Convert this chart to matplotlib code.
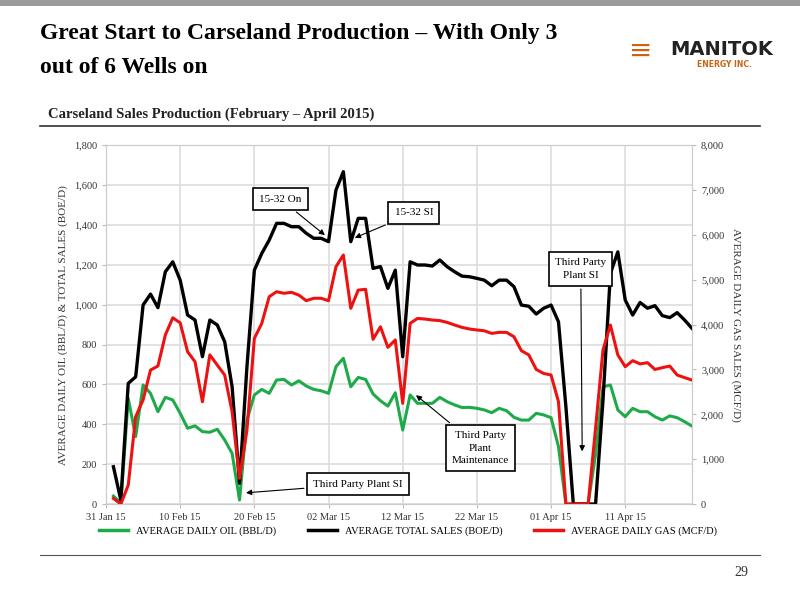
import matplotlib
matplotlib.use("Agg")
import matplotlib.pyplot as plt
from matplotlib.lines import Line2D

days = list(range(1, 80))
tick_days = [0, 10, 20, 30, 40, 50, 60, 70]
tick_labels = ["31 Jan 15", "10 Feb 15", "20 Feb 15", "02 Mar 15", "12 Mar 15", "22 Mar 15", "01 Apr 15", "11 Apr 15"]

total_boe = [187, 20, 605, 638, 998, 1053, 985, 1165, 1215, 1123, 948, 923, 739, 923, 898, 814, 588, 104,
             688, 1173, 1257, 1324, 1408, 1408, 1391, 1391, 1358, 1333, 1333, 1316, 1575, 1667, 1316, 1433,
             1433, 1182, 1191, 1082, 1173, 739, 1215, 1199, 1199, 1194, 1224, 1190, 1165, 1143, 1140, 1132,
             1123, 1095, 1123, 1123, 1090, 998, 992, 953, 982, 998, 914, 488, 0, 0, 0, 0, 521, 1157, 1265,
             1023, 948, 1011, 982, 995, 945, 935, 960, 923, 881]
oil_bbl = [40, 5, 530, 338, 597, 555, 463, 535, 522, 455, 380, 392, 363, 360, 375, 321, 254, 20, 421, 547,
           575, 555, 622, 625, 597, 618, 592, 575, 568, 555, 689, 731, 588, 635, 625, 552, 518, 491, 558,
           371, 547, 505, 505, 505, 535, 513, 497, 484, 485, 480, 472, 458, 480, 468, 435, 421, 421, 455,
           447, 433, 288, 0, 0, 0, 0, 250, 588, 597, 472, 438, 480, 463, 463, 438, 421, 442, 433, 413, 391]
gas_mcf = [124, 0, 422, 1947, 2320, 2987, 3076, 3769, 4151, 4040, 3396, 3173, 2280, 3324, 3098, 2876, 2058,
           573, 1649, 3693, 4027, 4622, 4733, 4698, 4720, 4658, 4533, 4587, 4587, 4533, 5289, 5551, 4364,
           4769, 4787, 3671, 3951, 3493, 3658, 2244, 4027, 4138, 4124, 4102, 4089, 4049, 3991, 3938, 3902,
           3880, 3862, 3804, 3827, 3827, 3729, 3418, 3324, 3000, 2911, 2876, 2280, 0, 0, 0, 0, 1689, 3436,
           3991, 3324, 3062, 3196, 3124, 3151, 3000, 3040, 3076, 2876, 2818, 2764]

serif = "Liberation Serif"
fig = plt.figure(figsize=(8, 6), dpi=100)
fig.patch.set_facecolor("white")

fig.add_artist(Line2D([0, 1], [0.997, 0.997], color="#9a9a9a", lw=5))
fig.text(0.05, 0.945, "Great Start to Carseland Production \u2013 With Only 3", fontsize=17,
         fontweight="bold", family=serif, va="center")
fig.text(0.05, 0.888, "out of 6 Wells on", fontsize=17, fontweight="bold", family=serif, va="center")
fig.text(0.838, 0.918, "MANITOK", fontsize=14, fontweight="bold", family="DejaVu Sans", color="#222222", va="center")
fig.text(0.905, 0.893, "ENERGY INC.", fontsize=5.5, fontweight="bold", color="#c86414", ha="center", va="center")
fig.text(0.801, 0.915, "\u2261", fontsize=20, color="#c86414", ha="center", va="center")
fig.text(0.06, 0.81, "Carseland Sales Production (February \u2013 April 2015)", fontsize=10.5,
         fontweight="bold", family=serif, va="center", color="#222222")
fig.add_artist(Line2D([0.05, 0.95], [0.79, 0.79], color="#333333", lw=1.2))
fig.add_artist(Line2D([0.05, 0.95], [0.075, 0.075], color="#555555", lw=0.8))
fig.text(0.935, 0.045, "29", fontsize=10, family=serif, ha="right", va="center", color="#333333")

ax = fig.add_axes([0.1325, 0.16, 0.7325, 0.598])
ax2 = ax.twinx()
ax.plot(days, oil_bbl, color="#1faa4a", lw=2.2, zorder=3)
ax.plot(days, total_boe, color="black", lw=2.4, zorder=4)
ax2.plot(days, gas_mcf, color="#ee1111", lw=2.2, zorder=3)

ax.set_xlim(0, 79)
ax.set_ylim(0, 1800)
ax2.set_ylim(0, 8000)
ax.set_yticks(range(0, 1801, 200))
ax.set_yticklabels([f"{v:,}" for v in range(0, 1801, 200)])
ax2.set_yticks(range(0, 8001, 1000))
ax2.set_yticklabels([f"{v:,}" for v in range(0, 8001, 1000)])
ax.set_xticks(tick_days)
ax.set_xticklabels(tick_labels)
ax.grid(True, color="#dddddd", lw=1.2)
ax.set_axisbelow(True)
for a in (ax, ax2):
    a.tick_params(labelsize=7.5, length=3, color="#bbbbbb", labelcolor="#333333")
    for lbl in a.get_xticklabels() + a.get_yticklabels():
        lbl.set_family(serif)
    for s in a.spines.values():
        s.set_color("#cccccc")
ax.set_ylabel("AVERAGE DAILY OIL (BBL/D) & TOTAL SALES (BOE/D)", fontsize=8, family=serif, color="#333333")
ax2.set_ylabel("AVERAGE DAILY GAS SALES (MCF/D)", fontsize=8, family=serif, color="#333333", rotation=-90, labelpad=12)

bbox = dict(boxstyle="square,pad=0.55", fc="white", ec="black", lw=1.2)
ap = dict(arrowstyle="-|>", color="black", lw=0.8, mutation_scale=8)
kw = dict(fontsize=8, family=serif, ha="center", va="center", bbox=bbox, arrowprops=ap, zorder=6, linespacing=1.5)
ax.annotate("15-32 On", xy=(29.8, 1340), xytext=(23.5, 1530), **kw)
ax.annotate("15-32 SI", xy=(33.2, 1330), xytext=(41.5, 1460), **kw)
ax.annotate("Third Party\nPlant SI", xy=(64.2, 250), xytext=(64.0, 1180), **kw)
ax.annotate("Third Party\nPlant\nMaintenance", xy=(41.5, 555), xytext=(50.5, 280), **kw)
ax.annotate("Third Party Plant SI", xy=(18.5, 55), xytext=(34, 100), **kw)

handles = [Line2D([], [], color="#1faa4a", lw=2.5), Line2D([], [], color="black", lw=2.5),
           Line2D([], [], color="#ee1111", lw=2.5)]
fig.legend(handles, ["AVERAGE DAILY OIL (BBL/D)", "AVERAGE TOTAL SALES (BOE/D)", "AVERAGE DAILY GAS (MCF/D)"],
           loc="center", bbox_to_anchor=(0.51, 0.115), ncol=3, frameon=False,
           prop={"family": serif, "size": 7.5}, handlelength=2.8, columnspacing=3)

fig.savefig("out.png", dpi=100)
